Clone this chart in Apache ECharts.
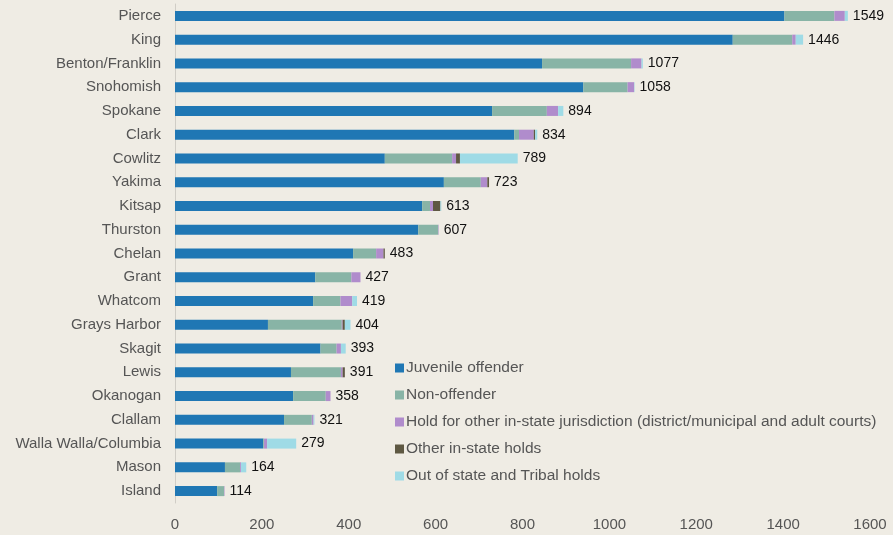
<!DOCTYPE html>
<html>
<head>
<meta charset="utf-8">
<script src="https://cdn.jsdelivr.net/npm/echarts@6/dist/echarts.min.js"></script>
<style>
  html, body { margin: 0; padding: 0; background: #efece4; }
  #chart { width: 893px; height: 535px; }
</style>
</head>
<body>
<div id="chart"></div>
<script>
// counties, top to bottom
const counties = ["Pierce", "King", "Benton/Franklin", "Snohomish", "Spokane", "Clark", "Cowlitz",
  "Yakima", "Kitsap", "Thurston", "Chelan", "Grant", "Whatcom", "Grays Harbor", "Skagit", "Lewis",
  "Okanogan", "Clallam", "Walla Walla/Columbia", "Mason", "Island"];

const juvenile    = [1403, 1284, 845, 940, 730, 781, 483, 619, 569, 560, 410, 323, 318, 214, 335, 267, 272, 251, 203, 115, 97];
const nonOffender = [115, 137, 205, 102, 126, 11, 155, 85, 18, 46, 53, 83, 63, 170, 37, 115, 75, 64, 2, 35, 16];
const holdOther   = [24, 8, 24, 15, 26, 34, 9, 15, 7, 1, 17, 21, 27, 2, 10, 4, 11, 4, 7, 2, 1];
const otherHolds  = [0, 0, 0, 0, 0, 3, 9, 4, 17, 0, 3, 0, 0, 5, 0, 5, 0, 0, 0, 0, 0];
const outOfState  = [7, 17, 3, 1, 12, 5, 133, 0, 2, 0, 0, 0, 11, 13, 11, 0, 0, 2, 67, 12, 0];
const totals      = [1549, 1446, 1077, 1058, 894, 834, 789, 723, 613, 607, 483, 427, 419, 404, 393, 391, 358, 321, 279, 164, 114];

const xTicks = [0, 200, 400, 600, 800, 1000, 1200, 1400, 1600];

const names = ["Juvenile offender", "Non-offender",
  "Hold for other in-state jurisdiction (district/municipal and adult courts)",
  "Other in-state holds", "Out of state and Tribal holds"];
const colors = ["#1f77b4", "#88b4a6", "#b08ccc", "#5e5842", "#9fdbe6"];
const values = [juvenile, nonOffender, holdOther, otherHolds, outOfState];

const chart = echarts.init(document.getElementById("chart"));

const series = values.map((v, i) => ({
  name: names[i],
  type: "bar",
  stack: "all",
  barWidth: 10,
  itemStyle: { color: colors[i] },
  data: v,
  label: i === 4 ? {
    show: true,
    position: "right",
    distance: 5,
    color: "#111",
    fontSize: 14,
    fontFamily: "Liberation Sans, Arial, sans-serif",
    formatter: p => totals[p.dataIndex]
  } : { show: false }
}));

const option = {
  backgroundColor: "#efece4",
  animation: false,
  grid: { left: 175, right: 23, top: 4, bottom: 32 },
  legend: {
    orient: "vertical",
    left: 390,
    top: 355,
    itemWidth: 9,
    itemHeight: 9,
    itemGap: 11,
    icon: "rect",
    textStyle: { color: "#555", fontSize: 15.5, fontFamily: "Liberation Sans, Arial, sans-serif", padding: [0, 0, 0, -3] },
    data: names
  },
  xAxis: {
    type: "value",
    min: xTicks[0],
    max: xTicks[xTicks.length - 1],
    interval: 200,
    axisLine: { show: false },
    axisTick: { show: false },
    splitLine: { show: false },
    axisLabel: {
      color: "#555", fontSize: 15, margin: 14,
      fontFamily: "Liberation Sans Narrow, Liberation Sans, sans-serif",
      formatter: v => String(v)
    }
  },
  yAxis: {
    type: "category",
    inverse: true,
    data: counties,
    axisLine: { show: true, lineStyle: { color: "#d0cdc6" } },
    axisTick: { show: false },
    axisLabel: { color: "#555", fontSize: 15, margin: 14, fontFamily: "Liberation Sans, Arial, sans-serif" }
  },
  series: series
};

chart.setOption(option);
</script>
</body>
</html>
